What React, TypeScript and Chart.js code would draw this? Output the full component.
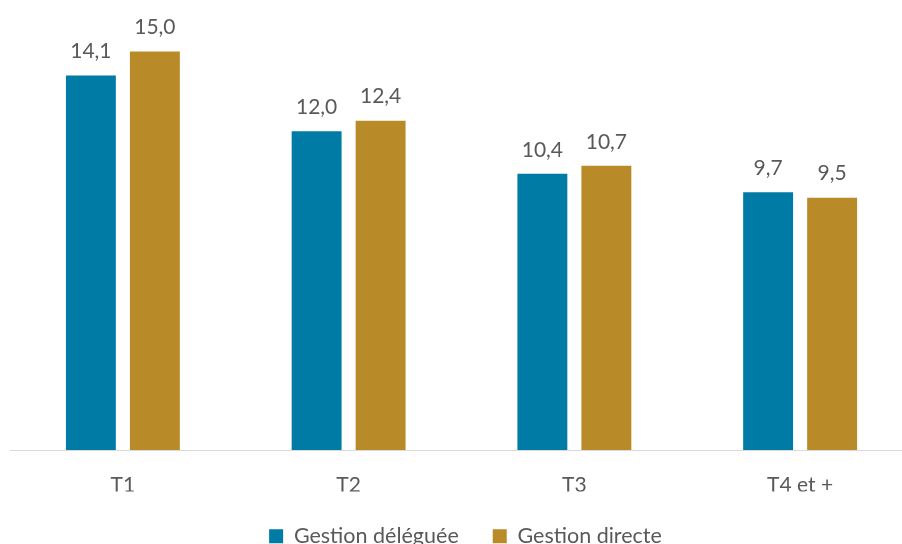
import React, { useEffect, useRef } from "react";
import { Chart, registerables } from "chart.js";

Chart.register(...registerables);

const categories = ["T1", "T2", "T3", "T4 et +"];
const gestionDeleguee = [14.1, 12.0, 10.4, 9.7];
const gestionDirecte = [15.0, 12.4, 10.7, 9.5];
const seriesNames = ["Gestion déléguée", "Gestion directe"];

const BLUE = "#007BA6";
const GOLD = "#B98A28";
const TEXT = "#595959";
const FONT = "Lato, 'Open Sans', sans-serif";

const labelPlugin = {
  id: "valueLabels",
  afterDatasetsDraw(chart: any) {
    const { ctx } = chart;
    ctx.save();
    ctx.fillStyle = TEXT;
    ctx.font = `21px ${FONT}`;
    ctx.textAlign = "center";
    ctx.textBaseline = "middle";
    chart.data.datasets.forEach((ds: any, di: number) => {
      const meta = chart.getDatasetMeta(di);
      meta.data.forEach((el: any, i: number) => {
        const v = ds.data[i] as number;
        ctx.fillText(v.toFixed(1).replace(".", ","), el.x, el.y - 24);
      });
    });
    ctx.restore();
  },
};

const legendShift = {
  id: "legendShift",
  afterLayout(chart: any) {
    if (chart.legend) {
      chart.legend.left += 4;
      chart.legend.right += 4;
    }
  },
};

export default function App() {
  const ref = useRef<HTMLCanvasElement | null>(null);
  useEffect(() => {
    document.body.style.margin = "0";
    const chart = new Chart(ref.current as HTMLCanvasElement, {
      type: "bar",
      data: {
        labels: categories,
        datasets: [
          { label: seriesNames[0], data: gestionDeleguee, backgroundColor: BLUE },
          { label: seriesNames[1], data: gestionDirecte, backgroundColor: GOLD },
        ],
      },
      options: {
        responsive: false,
        animation: false,
        devicePixelRatio: 1,
        layout: { padding: { top: 25, left: 10, right: 1, bottom: 0 } },
        datasets: { bar: { categoryPercentage: 0.567, barPercentage: 0.78 } },
        scales: {
          x: {
            grid: { display: false },
            border: { display: true, color: "#D9D9D9", width: 1 },
            ticks: { color: TEXT, font: { family: FONT, size: 21 }, padding: 15 },
            afterFit: (scale: any) => {
              scale.height = 41.5;
            },
          },
          y: { display: false, min: 0, max: 16 },
        },
        plugins: {
          legend: {
            position: "bottom",
            labels: {
              color: TEXT,
              font: { family: FONT, size: 21.5 },
              boxWidth: 14,
              boxHeight: 14,
              padding: 34,
            },
          },
          tooltip: { enabled: false },
        },
      },
      plugins: [labelPlugin, legendShift],
    });
    return () => chart.destroy();
  }, []);
  return (
    <div style={{ position: "fixed", left: 0, top: 0, width: 902, height: 544, overflow: "hidden", background: "#fff" }}>
      <canvas ref={ref} width={914} height={557} style={{ display: "block" }} />
    </div>
  );
}
